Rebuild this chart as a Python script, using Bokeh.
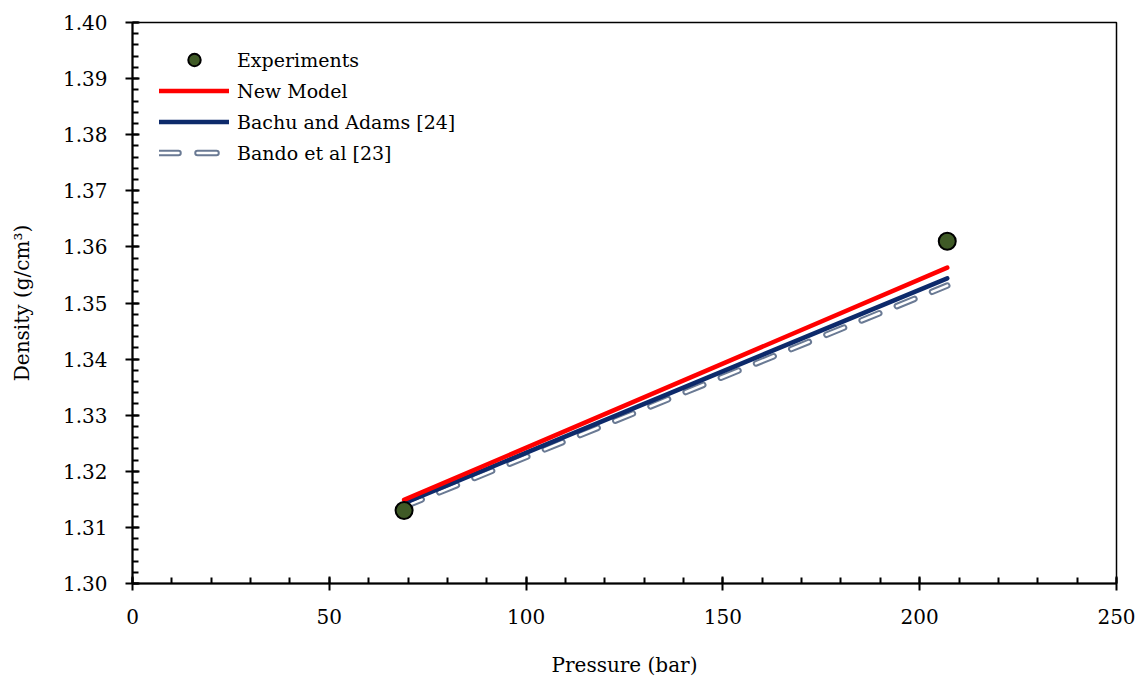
import numpy as np
from bokeh.plotting import figure
from bokeh.models import Range1d, FixedTicker, NumeralTickFormatter, Legend, LegendItem
from bokeh.embed import file_html
from bokeh.resources import INLINE

# Data
exp_pressure = [69, 207]
exp_density = [1.313, 1.361]

model_pressure = [69, 207]
new_model = [1.3149, 1.3563]
bachu_adams = [1.3143, 1.3544]
bando = [1.3137, 1.3531]

x_ticks = [0, 50, 100, 150, 200, 250]
y_ticks = [1.30, 1.31, 1.32, 1.33, 1.34, 1.35, 1.36, 1.37, 1.38, 1.39, 1.40]

FONT = "DejaVu Serif"

p = figure(width=1140, height=684, output_backend="svg", toolbar_location=None,
           x_range=Range1d(0, 250), y_range=Range1d(1.30, 1.40),
           min_border_left=132, min_border_right=24, min_border_top=22, min_border_bottom=101)

p.xgrid.visible = False
p.ygrid.visible = False
p.outline_line_color = "black"
p.outline_line_width = 1.5
p.background_fill_color = "white"
p.border_fill_color = "white"

x_minor = [v for v in range(0, 251, 10)]
y_minor = [round(1.30 + 0.002 * i, 4) for i in range(51)]
p.xaxis.ticker = FixedTicker(ticks=x_ticks, minor_ticks=x_minor)
p.yaxis.ticker = FixedTicker(ticks=y_ticks, minor_ticks=y_minor)
p.yaxis.formatter = NumeralTickFormatter(format="0.00")

for ax in (p.xaxis[0], p.yaxis[0]):
    ax.axis_line_color = "black"
    ax.axis_line_width = 2
    ax.major_tick_line_color = "black"
    ax.major_tick_line_width = 2
    ax.minor_tick_line_color = "black"
    ax.minor_tick_line_width = 2
    ax.major_tick_in = 7
    ax.major_tick_out = 7
    ax.minor_tick_in = 6
    ax.minor_tick_out = 0
    ax.major_label_text_font = FONT
    ax.major_label_text_font_size = "20px"
    ax.major_label_text_color = "black"
    ax.axis_label_text_font = FONT
    ax.axis_label_text_font_size = "20px"
    ax.axis_label_text_font_style = "normal"
    ax.axis_label_text_color = "black"

p.xaxis.axis_label = "Pressure (bar)"
p.yaxis.axis_label = "Density (g/cm³)"
p.xaxis.major_label_standoff = 18
p.xaxis.axis_label_standoff = 26
p.yaxis.major_label_standoff = 18
p.yaxis.axis_label_standoff = 26

bando_outer = p.line(model_pressure, bando, line_color="#6a7a94", line_width=6.5,
                     line_dash="19 19", line_cap="round")
bando_inner = p.line(model_pressure, bando, line_color="white", line_width=2.5,
                     line_dash="19 19", line_cap="round")
bachu_r = p.line(model_pressure, bachu_adams, line_color="#0d2a6b", line_width=4.5, line_cap="round")
new_r = p.line(model_pressure, new_model, line_color="#ff0000", line_width=4.5, line_cap="round")
exp_r = p.scatter(exp_pressure, exp_density, size=17, fill_color="#3f5a26",
                  line_color="black", line_width=2)

legend = Legend(items=[
    LegendItem(label="Experiments", renderers=[exp_r]),
    LegendItem(label="New Model", renderers=[new_r]),
    LegendItem(label="Bachu and Adams [24]", renderers=[bachu_r]),
    LegendItem(label="Bando et al [23]", renderers=[bando_outer, bando_inner]),
], location=(27, 415))
legend.border_line_color = None
legend.background_fill_alpha = 0
legend.label_text_font = FONT
legend.label_text_font_size = "19px"
legend.label_text_color = "black"
legend.glyph_width = 70
legend.glyph_height = 31
legend.label_height = 31
legend.spacing = 0
legend.label_standoff = 8
legend.margin = 0
legend.padding = 4
p.add_layout(legend)

open("out.html", "w").write(file_html(p, INLINE))
